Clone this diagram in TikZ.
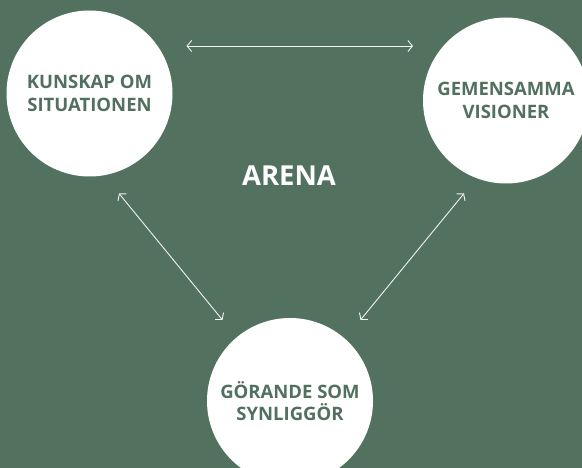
\documentclass[tikz,border=0pt]{standalone}
\usepackage{fontspec}
\setmainfont{Open Sans}
\usetikzlibrary{arrows.meta}
\definecolor{bg}{HTML}{53715F}
\definecolor{txt}{HTML}{52705F}
\tikzset{
  circ/.style={circle, fill=white, minimum size=166pt, inner sep=0pt, align=center,
    font=\fontsize{18.5}{22.7}\selectfont\bfseries, text=txt},
  conn/.style={draw=white!92!bg, line width=0.9pt, {Straight Barb[length=4.5pt,width=11pt]}-{Straight Barb[length=4.5pt,width=11pt]}}
}
\begin{document}
\begin{tikzpicture}[x=1pt,y=-1pt]
\fill[bg] (0,0) rectangle (582,468);
\useasboundingbox (0,0) rectangle (582,468);
\begin{scope}
\clip (0,0) rectangle (582,468);
\node[circ] (k) at (89.5,93.5) {KUNSKAP OM\\SITUATIONEN};
\node[circ] (g) at (506,100.5) {GEMENSAMMA\\VISIONER};
\node[circ] (s) at (290,401) {GÖRANDE SOM\\SYNLIGGÖR};
\end{scope}
\node[text=white, font=\fontsize{27.5}{32}\selectfont\bfseries] (a) at (289,176) {ARENA};
\coordinate (t1) at (186.5,46);
\coordinate (t2) at (413,46);
\coordinate (l1) at (119,193.5);
\coordinate (l2) at (222.5,320);
\coordinate (r1) at (464,193.5);
\coordinate (r2) at (360.5,320);
\draw[conn] (t1) -- (t2);
\draw[conn] (l1) -- (l2);
\draw[conn] (r1) -- (r2);
\end{tikzpicture}
\end{document}
